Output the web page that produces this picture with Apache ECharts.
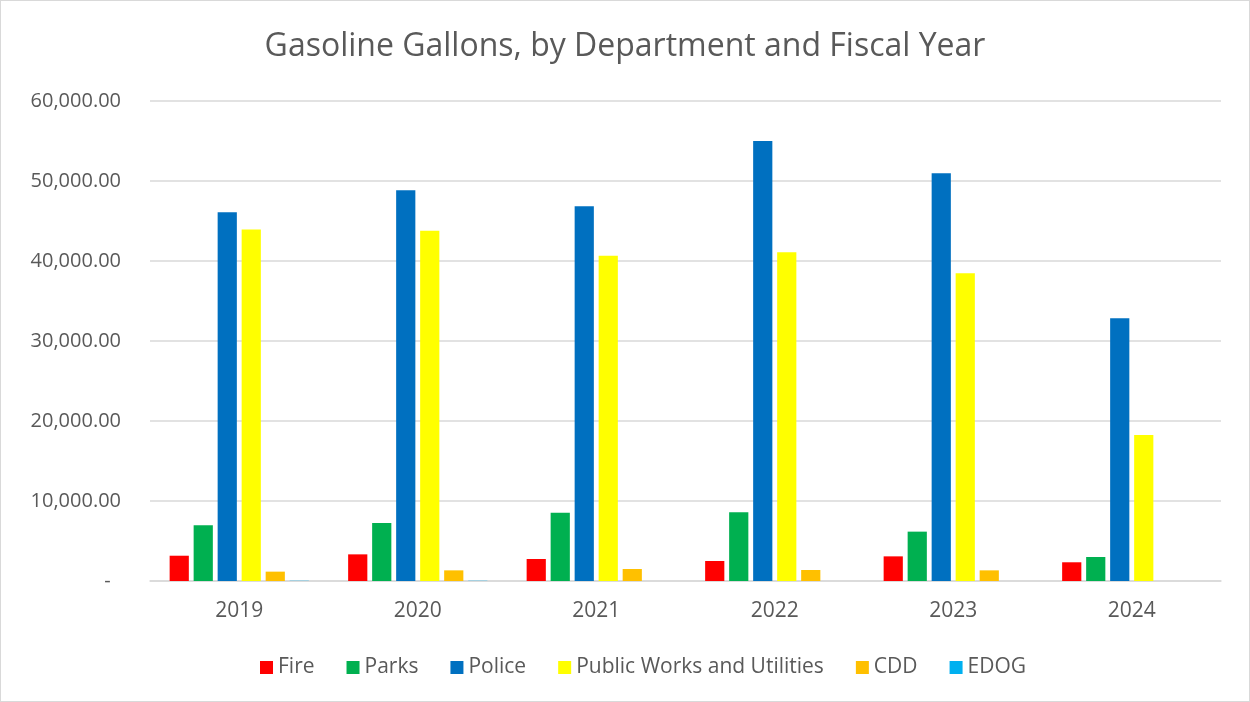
<!DOCTYPE html>
<html>
<head>
<meta charset="utf-8">
<script src="https://cdn.jsdelivr.net/npm/echarts@6/dist/echarts.min.js"></script>
<style>
html,body{margin:0;padding:0;background:#fff;}
#wrap{position:absolute;left:0;top:0;width:1248px;height:700px;border:1px solid #d9d9d9;}
#chart{width:1248px;height:700px;}
</style>
</head>
<body>
<div id="wrap"><div id="chart"></div></div>
<script>
const years = ['2019','2020','2021','2022','2023','2024'];
const fire   = [3160, 3330, 2750, 2500, 3080, 2340];
const parks  = [6960, 7250, 8540, 8580, 6170, 3000];
const police = [46100, 48840, 46830, 55000, 50960, 32840];
const pwu    = [43950, 43790, 40670, 41080, 38460, 18250];
const cdd    = [1170, 1330, 1500, 1375, 1330, 0];
const edog   = [30, 30, 0, 0, 0, 0];

const names  = ['Fire','Parks','Police','Public Works and Utilities','CDD','EDOG'];
const colors = ['#FF0000','#00B050','#0070C0','#FFFF00','#FFC000','#00B0F0'];
const datas  = [fire, parks, police, pwu, cdd, edog];

const FONT = '"Open Sans", sans-serif';
const chart = echarts.init(document.getElementById('chart'));
chart.setOption({
  animation: false,
  color: colors,
  title: {
    text: 'Gasoline Gallons, by Department and Fiscal Year',
    left: 'center', top: 25,
    textStyle: {fontFamily: FONT, fontSize: 32, fontWeight: 'normal', color: '#595959'}
  },
  legend: {
    bottom: 18, left: 254,
    itemWidth: 13, itemHeight: 13, itemGap: 32,
    icon: 'rect',
    textStyle: {fontFamily: FONT, fontSize: 21, color: '#595959'},
    data: names
  },
  grid: {left: 149, right: 28, top: 100, bottom: 120, containLabel: false},
  xAxis: {
    type: 'category', data: years,
    axisLine: {lineStyle: {color: '#d9d9d9', width: 1.5}},
    axisTick: {show: false},
    axisLabel: {fontFamily: FONT, fontSize: 21, color: '#595959', margin: 20}
  },
  yAxis: {
    type: 'value', min: 0, max: 60000, interval: 10000,
    axisLine: {show: false}, axisTick: {show: false},
    splitLine: {lineStyle: {color: '#d9d9d9', width: 1.5}},
    axisLabel: {
      fontFamily: FONT, fontSize: 20, color: '#595959', margin: 29,
      formatter: v => v === 0 ? '-  ' : v.toLocaleString('en-US', {minimumFractionDigits: 2, maximumFractionDigits: 2})
    }
  },
  series: names.map((n, i) => ({
    name: n, type: 'bar', data: datas[i],
    barGap: '25%', barCategoryGap: '22%',
    itemStyle: {color: colors[i]}
  }))
});
</script>
</body>
</html>
